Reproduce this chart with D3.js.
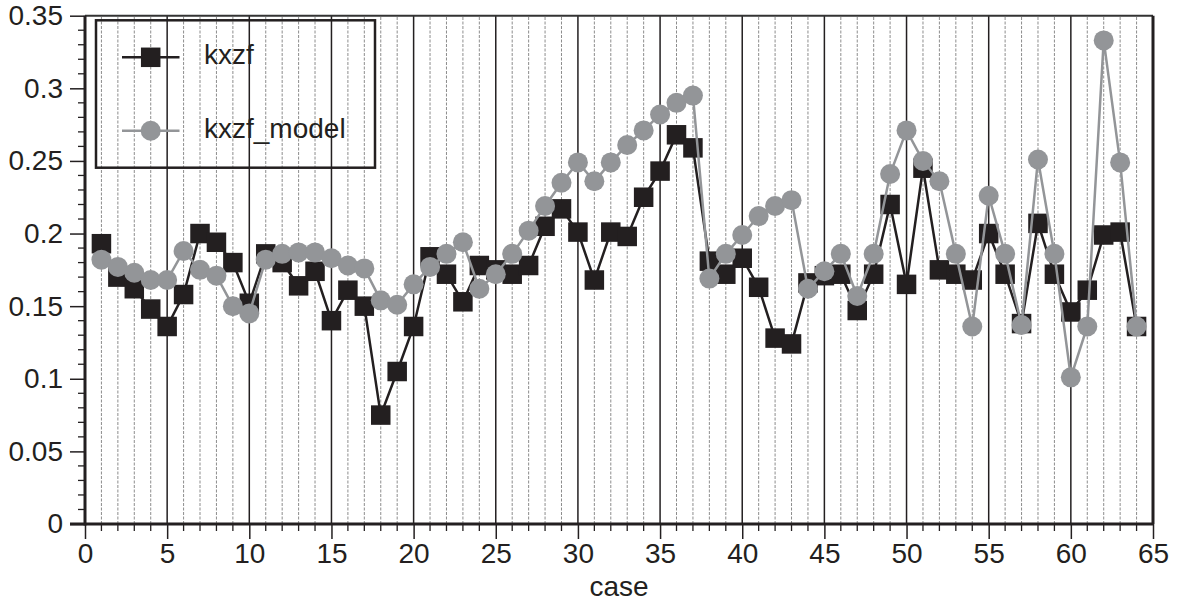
<!DOCTYPE html>
<html>
<head>
<meta charset="utf-8">
<script src="https://cdn.jsdelivr.net/npm/d3@7/dist/d3.min.js"></script>
<style>
  html, body { margin: 0; padding: 0; background: #fff; }
  svg { display: block; }
  text { font-family: "Liberation Sans", Arial, Helvetica, sans-serif; fill: #231f20; }
</style>
</head>
<body>
<svg id="chart" width="1178" height="607"></svg>
<script>
// Case numbers 1..64
const cases = [1,2,3,4,5,6,7,8,9,10,11,12,13,14,15,16,17,18,19,20,21,22,23,24,25,26,27,28,29,30,31,32,
               33,34,35,36,37,38,39,40,41,42,43,44,45,46,47,48,49,50,51,52,53,54,55,56,57,58,59,60,61,62,63,64];

// Measured kxzf per case
const kxzf = [0.193,0.170,0.162,0.148,0.136,0.158,0.200,0.194,0.180,0.152,0.186,0.180,0.164,0.174,0.140,0.161,
              0.150,0.075,0.105,0.136,0.184,0.172,0.153,0.178,0.175,0.172,0.178,0.205,0.217,0.201,0.168,0.201,
              0.198,0.225,0.243,0.268,0.259,0.181,0.172,0.183,0.163,0.128,0.124,0.166,0.171,0.172,0.147,0.172,
              0.220,0.165,0.245,0.175,0.172,0.168,0.200,0.172,0.138,0.207,0.172,0.146,0.161,0.199,0.201,0.136];

// Model kxzf per case
const kxzfModel = [0.182,0.177,0.173,0.168,0.168,0.188,0.175,0.171,0.150,0.145,0.182,0.186,0.187,0.187,0.183,0.178,
                   0.176,0.154,0.151,0.165,0.177,0.186,0.194,0.162,0.172,0.186,0.202,0.219,0.235,0.249,0.236,0.249,
                   0.261,0.271,0.282,0.290,0.295,0.169,0.186,0.199,0.212,0.219,0.223,0.162,0.174,0.186,0.157,0.186,
                   0.241,0.271,0.250,0.236,0.186,0.136,0.226,0.186,0.137,0.251,0.186,0.101,0.136,0.333,0.249,0.136];

const xTicks = [0,5,10,15,20,25,30,35,40,45,50,55,60,65];
const yTicks = [0,0.05,0.1,0.15,0.2,0.25,0.3,0.35];
const yTickLabels = ["0","0.05","0.1","0.15","0.2","0.25","0.3","0.35"];
const seriesNames = ["kxzf","kxzf_model"];

const DARK = "#231f20", GREY = "#939598";

const svg = d3.select("#chart");
const x = d3.scaleLinear().domain([0, 65]).range([85, 1153]);
const y = d3.scaleLinear().domain([0, 0.35]).range([524, 15.7]);

const xMinor = d3.range(0, 66);
const yMinor = d3.range(0, 36).map(d => d / 100);

// Vertical grid: fine dashed at every case, solid at every fifth
const grid = svg.append("g");
grid.selectAll("line.minor").data(xMinor.filter(d => d % 5 !== 0))
  .join("line")
  .attr("x1", d => x(d)).attr("x2", d => x(d))
  .attr("y1", y(0)).attr("y2", y(0.35))
  .attr("stroke", "#808080").attr("stroke-width", 0.9)
  .attr("stroke-dasharray", "3,1.5");
grid.selectAll("line.major").data(xTicks.filter(d => d > 0 && d < 65))
  .join("line")
  .attr("x1", d => x(d)).attr("x2", d => x(d))
  .attr("y1", y(0)).attr("y2", y(0.35))
  .attr("stroke", DARK).attr("stroke-width", 1.5);

// Frame: top and right
svg.append("line").attr("x1", x(0)).attr("x2", x(65)).attr("y1", y(0.35)).attr("y2", y(0.35))
  .attr("stroke", "#333").attr("stroke-width", 2);
svg.append("line").attr("x1", x(65)).attr("x2", x(65)).attr("y1", y(0.35)).attr("y2", y(0))
  .attr("stroke", DARK).attr("stroke-width", 3);

// Y axis
const yAxis = svg.append("g").attr("transform", `translate(${x(0)},0)`)
  .call(d3.axisLeft(y).tickValues(yTicks).tickSize(15).tickPadding(7)
    .tickFormat((d, i) => yTickLabels[i]));
yAxis.select(".domain").remove();
yAxis.selectAll(".tick line").attr("stroke", DARK).attr("stroke-width", 1.5);
yAxis.selectAll(".tick text").attr("font-size", 28).style("font-family", "Liberation Sans, Arial, sans-serif").attr("fill", DARK);
svg.append("g").selectAll("line").data(yMinor.filter(d => Math.round(d * 100) % 5 !== 0))
  .join("line")
  .attr("x1", x(0) - 7).attr("x2", x(0))
  .attr("y1", d => y(d)).attr("y2", d => y(d))
  .attr("stroke", DARK).attr("stroke-width", 1.3);

// X axis
const xAxis = svg.append("g").attr("transform", `translate(0,${y(0)})`)
  .call(d3.axisBottom(x).tickValues(xTicks).tickSize(15).tickPadding(4).tickFormat(d3.format("d")));
xAxis.select(".domain").remove();
xAxis.selectAll(".tick line").attr("stroke", DARK).attr("stroke-width", 1.5);
xAxis.selectAll(".tick text").attr("font-size", 28).style("font-family", "Liberation Sans, Arial, sans-serif").attr("fill", DARK);
svg.append("g").selectAll("line").data(xMinor.filter(d => d % 5 !== 0))
  .join("line")
  .attr("x1", d => x(d)).attr("x2", d => x(d))
  .attr("y1", y(0)).attr("y2", y(0) + 7)
  .attr("stroke", DARK).attr("stroke-width", 1.3);

// Axis lines
svg.append("line").attr("x1", x(0)).attr("x2", x(0)).attr("y1", y(0.35)).attr("y2", y(0) + 1.5)
  .attr("stroke", DARK).attr("stroke-width", 3);
svg.append("line").attr("x1", x(0) - 15).attr("x2", x(65)).attr("y1", y(0)).attr("y2", y(0))
  .attr("stroke", DARK).attr("stroke-width", 3);

svg.append("text").attr("x", (x(0) + x(65)) / 2).attr("y", 596)
  .attr("text-anchor", "middle").attr("font-size", 28).text("case");

// Series
const measured = cases.map((c, i) => ({ c, v: kxzf[i] }));
const model = cases.map((c, i) => ({ c, v: kxzfModel[i] }));
const line = d3.line().x(d => x(d.c)).y(d => y(d.v));
const SQ = 19.5, R = 10;

svg.append("path").datum(measured).attr("d", line)
  .attr("fill", "none").attr("stroke", DARK).attr("stroke-width", 2.5);
svg.append("g").selectAll("rect").data(measured).join("rect")
  .attr("x", d => x(d.c) - SQ / 2).attr("y", d => y(d.v) - SQ / 2)
  .attr("width", SQ).attr("height", SQ).attr("fill", DARK);

svg.append("path").datum(model).attr("d", line)
  .attr("fill", "none").attr("stroke", GREY).attr("stroke-width", 2.5);
svg.append("g").selectAll("circle").data(model).join("circle")
  .attr("cx", d => x(d.c)).attr("cy", d => y(d.v)).attr("r", R).attr("fill", GREY);

// Legend
const lg = svg.append("g");
lg.append("rect").attr("x", 96).attr("y", 20.3).attr("width", 279).attr("height", 147.4)
  .attr("fill", "none").attr("stroke", DARK).attr("stroke-width", 2.5);
const legendRows = [{ name: seriesNames[0], color: DARK, shape: "square", cy: 57.3 },
                    { name: seriesNames[1], color: GREY, shape: "circle", cy: 130.7 }];
legendRows.forEach(r => {
  lg.append("line").attr("x1", 122).attr("x2", 179.5).attr("y1", r.cy).attr("y2", r.cy)
    .attr("stroke", r.color).attr("stroke-width", 2.5);
  if (r.shape === "square") {
    lg.append("rect").attr("x", 150.7 - SQ / 2).attr("y", r.cy - SQ / 2)
      .attr("width", SQ).attr("height", SQ).attr("fill", r.color);
  } else {
    lg.append("circle").attr("cx", 150.7).attr("cy", r.cy).attr("r", R).attr("fill", r.color);
  }
  lg.append("text").attr("x", 204).attr("y", r.cy + 6.8).attr("font-size", 28).text(r.name);
});
</script>
</body>
</html>
